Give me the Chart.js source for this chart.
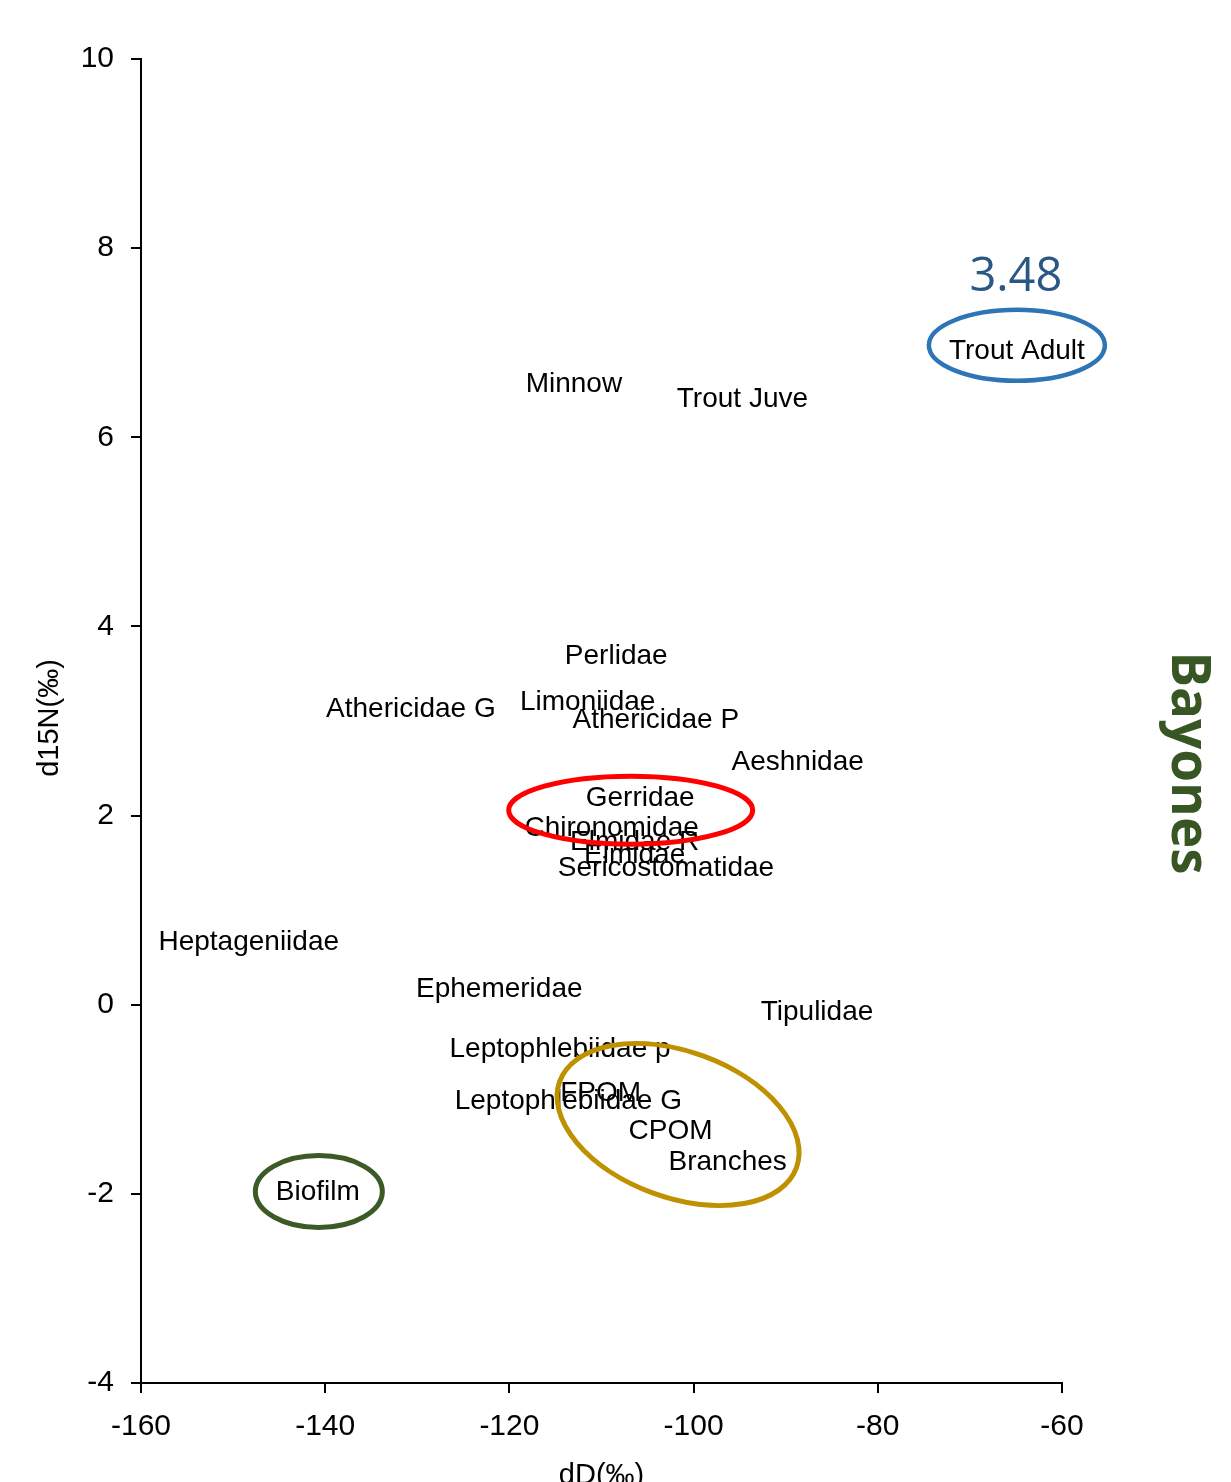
<!DOCTYPE html>
<html>
<head>
<meta charset="utf-8">
<script src="https://cdn.jsdelivr.net/npm/chart.js@4.4.1/dist/chart.umd.min.js"></script>
<style>
  html, body { margin: 0; padding: 0; background: #fff; }
  #wrap { width: 1231px; height: 1482px; }
</style>
</head>
<body>
<div id="wrap"><canvas id="isoChart" width="1231" height="1482"></canvas></div>
<script>
// Bayones food web: dD vs d15N per taxon / source
const taxa = ['Trout Adult', 'Minnow', 'Trout Juve', 'Perlidae', 'Athericidae G', 'Limoniidae',
  'Athericidae P', 'Aeshnidae', 'Gerridae', 'Chironomidae', 'Elmidae R', 'Elmidae',
  'Sericostomatidae', 'Heptageniidae', 'Ephemeridae', 'Tipulidae', 'Leptophlebiidae p',
  'FPOM', 'Leptophlebiidae G', 'CPOM', 'Branches', 'Biofilm'];
const dD = [-64.9, -113.0, -94.7, -108.4, -130.7, -111.5, -104.1, -88.7, -105.8, -108.9,
  -106.4, -106.4, -103.0, -148.3, -121.1, -86.6, -114.5, -110.1, -113.6, -102.5, -96.3, -140.8];
const d15N = [6.93, 6.58, 6.42, 3.71, 3.14, 3.22, 3.03, 2.58, 2.20, 1.89, 1.74, 1.60, 1.46,
  0.68, 0.18, -0.06, -0.45, -0.92, -1.00, -1.32, -1.65, -1.96];
const xTicks = [-160, -140, -120, -100, -80, -60];
const yTicks = [-4, -2, 0, 2, 4, 6, 8, 10];
const troutAdultShift = '3.48';

// hand-drawn rings around groups, anchored on a labelled point (offsets in px)
const rings = [
  { around: 'Trout Adult', dx: 0, dy: -4, rx: 88, ry: 35.5, rot: 0, color: '#2E75B6', width: 4.5 },
  { around: 'Gerridae', dx: -9.5, dy: 13.5, rx: 122, ry: 34, rot: 0, color: '#FF0000', width: 5 },
  { around: 'CPOM', dx: 7.5, dy: -5, rx: 126, ry: 73, rot: 20, color: '#BF9000', width: 5 },
  { around: 'Biofilm', dx: 1, dy: 1.5, rx: 63.5, ry: 36, rot: 0, color: '#3B5A26', width: 5 },
];

const LABEL_FONT = '28px "Liberation Sans", Arial, sans-serif';
const TICK_FONT = { family: '"Liberation Sans", Arial, sans-serif', size: 30 };

const points = dD.map((x, i) => ({ x, y: d15N[i] }));

function pointPos(chart, name) {
  const el = chart.getDatasetMeta(0).data[taxa.indexOf(name)];
  return { x: el.x, y: el.y };
}

const labelsPlugin = {
  id: 'taxonLabels',
  afterDatasetsDraw(chart) {
    const ctx = chart.ctx;
    ctx.save();
    ctx.font = LABEL_FONT;
    ctx.fillStyle = '#000';
    ctx.textAlign = 'center';
    ctx.textBaseline = 'middle';
    // +2 px: canvas 'middle' sits a touch above the cap-height centre
    chart.getDatasetMeta(0).data.forEach((el, i) => {
      ctx.fillText(taxa[i], el.x, el.y + 2);
    });

    rings.forEach((r) => {
      const p = pointPos(chart, r.around);
      ctx.beginPath();
      ctx.ellipse(p.x + r.dx, p.y + r.dy, r.rx, r.ry, r.rot * Math.PI / 180, 0, Math.PI * 2);
      ctx.strokeStyle = r.color;
      ctx.lineWidth = r.width;
      ctx.stroke();
    });

    // trophic shift note above the adult trout
    const t = pointPos(chart, 'Trout Adult');
    ctx.font = '47px "Open Sans", sans-serif';
    ctx.fillStyle = '#2A5783';
    ctx.fillText(troutAdultShift, t.x - 1, t.y - 72);

    // axis titles
    const area = chart.chartArea;
    ctx.font = '29px "Liberation Sans", Arial, sans-serif';
    ctx.fillStyle = '#000';
    ctx.textBaseline = 'alphabetic';
    ctx.fillText('dD(‰)', (area.left + area.right) / 2, 1484);
    ctx.save();
    ctx.translate(58, (area.top + area.bottom) / 2 - 3);
    ctx.rotate(-Math.PI / 2);
    ctx.fillText('d15N(‰)', 0, 0);
    ctx.restore();

    // site name, reading top to bottom
    ctx.save();
    ctx.translate(1172, 763);
    ctx.rotate(Math.PI / 2);
    ctx.font = 'bold 53px "Open Sans", sans-serif';
    ctx.fillStyle = '#375623';
    ctx.fillText('Bayones', 0, 0);
    ctx.restore();
    ctx.restore();
  },
};

new Chart(document.getElementById('isoChart'), {
  type: 'scatter',
  data: {
    datasets: [{ data: points, pointRadius: 0, pointHoverRadius: 0, backgroundColor: '#000' }],
  },
  options: {
    responsive: false,
    animation: false,
    events: [],
    layout: { padding: { top: 59, right: 169, bottom: 0, left: 0 } },
    plugins: { legend: { display: false }, tooltip: { enabled: false } },
    scales: {
      x: {
        type: 'linear',
        min: xTicks[0],
        max: xTicks[xTicks.length - 1],
        afterBuildTicks: (s) => { s.ticks = xTicks.map((v) => ({ value: v })); },
        afterFit: (s) => { s.height = 99; },
        grid: { drawOnChartArea: false, drawTicks: true, tickLength: 10, color: '#000', lineWidth: 2 },
        border: { display: true, color: '#000', width: 2 },
        ticks: { color: '#000', font: TICK_FONT, padding: 16, maxRotation: 0 },
      },
      y: {
        type: 'linear',
        min: yTicks[0],
        max: yTicks[yTicks.length - 1],
        afterBuildTicks: (s) => { s.ticks = yTicks.map((v) => ({ value: v })); },
        afterFit: (s) => { s.width = 141; },
        grid: { drawOnChartArea: false, drawTicks: true, tickLength: 10, color: '#000', lineWidth: 2 },
        border: { display: true, color: '#000', width: 2 },
        ticks: { color: '#000', font: TICK_FONT, padding: 17 },
      },
    },
  },
  plugins: [labelsPlugin],
});
</script>
</body>
</html>
